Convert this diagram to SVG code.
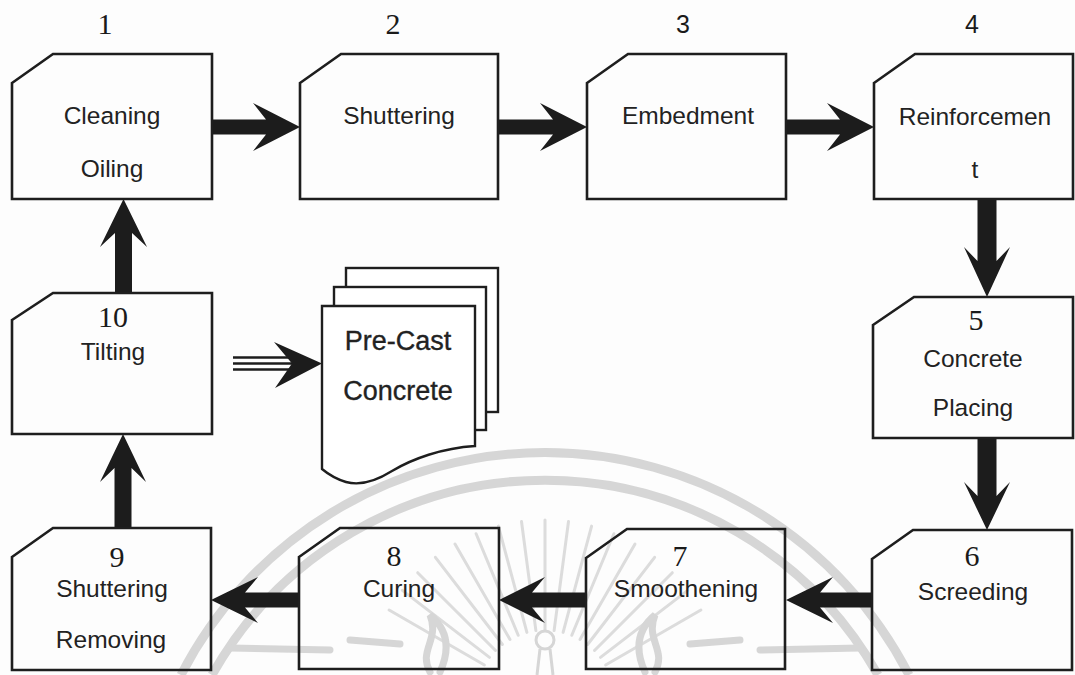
<svg xmlns="http://www.w3.org/2000/svg" width="1075" height="675" viewBox="0 0 1075 675">
  <style>
    .box { fill: none; stroke: #1e1e1e; stroke-width: 2.6; stroke-linejoin: miter; }
    .doc { fill: #ffffff; stroke: #1e1e1e; stroke-width: 2.4; }
    .lbl { font-family: "Liberation Sans", Arial, sans-serif; font-size: 24.5px; fill: #222222; text-anchor: middle; }
    .big { font-size: 27px; stroke: #222222; stroke-width: 0.35; }
    .num { font-family: "Liberation Serif", "Times New Roman", serif; font-size: 30px; fill: #1a1a1a; text-anchor: middle; }
    .nums { font-family: "Liberation Sans", Arial, sans-serif; font-size: 25px; fill: #1a1a1a; text-anchor: middle; }
    .arrow { fill: #1c1c1c; }
    .wm { fill: none; stroke: #d6d6d6; }
  </style>

  <rect x="0" y="0" width="1075" height="675" fill="#fdfdfd"/>

  <!-- faint background emblem -->
  <g id="emblem" class="wm">
    <path d="M 181 675 A 409 409 0 0 1 909 675" stroke-width="9"/>
    <path d="M 212 675 A 382 382 0 0 1 878 675" stroke-width="9"/>
    <g stroke-width="3" stroke-linecap="round" stroke="#dcdcdc">
      <line x1="605.6" y1="665" x2="700.9" y2="610"/>
      <line x1="600.5" y1="657.4" x2="687.7" y2="590.4"/>
      <line x1="594.5" y1="650.5" x2="672.3" y2="572.7"/>
      <line x1="587.6" y1="644.5" x2="654.6" y2="557.3"/>
      <line x1="580" y1="639.4" x2="635" y2="544.1"/>
      <line x1="571.8" y1="635.3" x2="613.9" y2="533.7"/>
      <line x1="563.1" y1="632.4" x2="591.6" y2="526.1"/>
      <line x1="554.1" y1="630.6" x2="568.5" y2="521.5"/>
      <line x1="545" y1="630" x2="545" y2="520"/>
      <line x1="535.9" y1="630.6" x2="521.5" y2="521.5"/>
      <line x1="526.9" y1="632.4" x2="498.4" y2="526.1"/>
      <line x1="518.2" y1="635.3" x2="476.1" y2="533.7"/>
      <line x1="510" y1="639.4" x2="455" y2="544.1"/>
      <line x1="502.4" y1="644.5" x2="435.4" y2="557.3"/>
      <line x1="495.5" y1="650.5" x2="417.7" y2="572.7"/>
      <line x1="489.5" y1="657.4" x2="402.3" y2="590.4"/>
      <line x1="484.4" y1="665" x2="389.1" y2="610"/>
    </g>
    <g stroke-width="7" stroke-linecap="round">
      <line x1="230" y1="648" x2="330" y2="650"/>
      <line x1="350" y1="640" x2="400" y2="644"/>
      <line x1="690" y1="644" x2="740" y2="640"/>
      <line x1="760" y1="650" x2="860" y2="648"/>
      <path d="M 430 672 C 418 650 440 640 430 615 C 448 630 450 650 440 672"/>
      <path d="M 655 672 C 667 650 645 640 655 615 C 637 630 635 650 645 672"/>
    </g>
    <circle cx="545" cy="640" r="9" stroke-width="3"/>
    <path d="M 540 649 L 537 675 M 550 649 L 553 675" stroke-width="3"/>
  </g>

  <!-- connectors -->
  <g id="connectors">
    <!-- top row, left to right -->
    <polygon class="arrow" points="212,119.5 266,119.5 253,103 300,127 253,151 266,134.5 212,134.5"/>
    <polygon class="arrow" points="498,119.5 553,119.5 540,103 587,127 540,151 553,134.5 498,134.5"/>
    <polygon class="arrow" points="786,119.5 840,119.5 827,103 874,127 827,151 840,134.5 786,134.5"/>
    <!-- right column, downward -->
    <polygon class="arrow" points="977.5,199 977.5,261 964,247 987,297 1010,247 996.5,261 996.5,199"/>
    <polygon class="arrow" points="977.5,438 977.5,496 964,482 987,530 1010,482 996.5,496 996.5,438"/>
    <!-- bottom row, right to left -->
    <polygon class="arrow" points="872,592.5 820,592.5 833,577 786,600 833,623 820,607.5 872,607.5"/>
    <polygon class="arrow" points="586,592.5 532,592.5 545,577 499,600 545,623 532,607.5 586,607.5"/>
    <polygon class="arrow" points="299,592.5 245,592.5 258,577 211,600 258,623 245,607.5 299,607.5"/>
    <!-- left column, upward -->
    <polygon class="arrow" points="114.5,528 114.5,468 100,482 123,434 146,482 131.5,468 131.5,528"/>
    <polygon class="arrow" points="115,293 115,233 100,247 123.5,199 147,247 132,233 132,293"/>
    <!-- output to product stack -->
    <g stroke="#1c1c1c" stroke-width="2.6">
      <line x1="233" y1="357.5" x2="300" y2="357.5"/>
      <line x1="233" y1="363.5" x2="300" y2="363.5"/>
      <line x1="233" y1="369.5" x2="300" y2="369.5"/>
    </g>
    <polygon class="arrow" points="274,342 322,363.5 275,388 292,363.5"/>
  </g>

  <!-- process steps -->
  <g id="node1">
    <path class="box" d="M12,83 L53,54 L212,54 L212,199 L12,199 Z"/>
    <text class="num" x="105" y="34">1</text>
    <text class="lbl" x="112" y="124">Cleaning</text>
    <text class="lbl" x="112" y="177">Oiling</text>
  </g>
  <g id="node2">
    <path class="box" d="M300,83 L341,54 L498,54 L498,199 L300,199 Z"/>
    <text class="num" x="393" y="34">2</text>
    <text class="lbl" x="399" y="124">Shuttering</text>
  </g>
  <g id="node3">
    <path class="box" d="M587,83 L628,54 L786,54 L786,199 L587,199 Z"/>
    <text class="nums" x="683" y="33">3</text>
    <text class="lbl" x="688" y="124">Embedment</text>
  </g>
  <g id="node4">
    <path class="box" d="M874,83 L915,54 L1073,54 L1073,199 L874,199 Z"/>
    <text class="nums" x="972" y="33">4</text>
    <text class="lbl" x="975" y="125">Reinforcemen</text>
    <text class="lbl" x="975" y="178">t</text>
  </g>
  <g id="node5">
    <path class="box" d="M873,325 L914,297 L1073,297 L1073,438 L873,438 Z"/>
    <text class="num" x="976" y="330">5</text>
    <text class="lbl" x="973" y="367">Concrete</text>
    <text class="lbl" x="973" y="416">Placing</text>
  </g>
  <g id="node6">
    <path class="box" d="M872,559 L913,530 L1072,530 L1072,670 L872,670 Z"/>
    <text class="num" x="972" y="566">6</text>
    <text class="lbl" x="973" y="600">Screeding</text>
  </g>
  <g id="node7">
    <path class="box" d="M586,558 L627,529 L785,529 L785,669 L586,669 Z"/>
    <text class="num" x="680" y="566">7</text>
    <text class="lbl" x="686" y="597">Smoothening</text>
  </g>
  <g id="node8">
    <path class="box" d="M299,557 L340,528 L499,528 L499,669 L299,669 Z"/>
    <text class="num" x="394" y="566">8</text>
    <text class="lbl" x="399" y="597">Curing</text>
  </g>
  <g id="node9">
    <path class="box" d="M12,557 L53,528 L211,528 L211,670 L12,670 Z"/>
    <text class="num" x="117" y="567">9</text>
    <text class="lbl" x="112" y="597">Shuttering</text>
    <text class="lbl" x="111" y="648">Removing</text>
  </g>
  <g id="node10">
    <path class="box" d="M12,320 L53,293 L212,293 L212,434 L12,434 Z"/>
    <text class="num" x="113" y="327">10</text>
    <text class="lbl" x="113" y="360">Tilting</text>
  </g>

  <!-- product: stacked documents -->
  <g id="precast">
    <rect class="doc" x="346" y="268" width="152" height="144"/>
    <rect class="doc" x="334" y="287" width="152" height="143"/>
    <path class="doc" d="M322,306 L475,306 L475,446 C 442,448 412,459 392,471 C 376,481 360,486 346,482 C 336,479 328,474 322,469 Z"/>
    <text class="lbl big" x="398" y="350">Pre-Cast</text>
    <text class="lbl big" x="398" y="400">Concrete</text>
  </g>
</svg>
